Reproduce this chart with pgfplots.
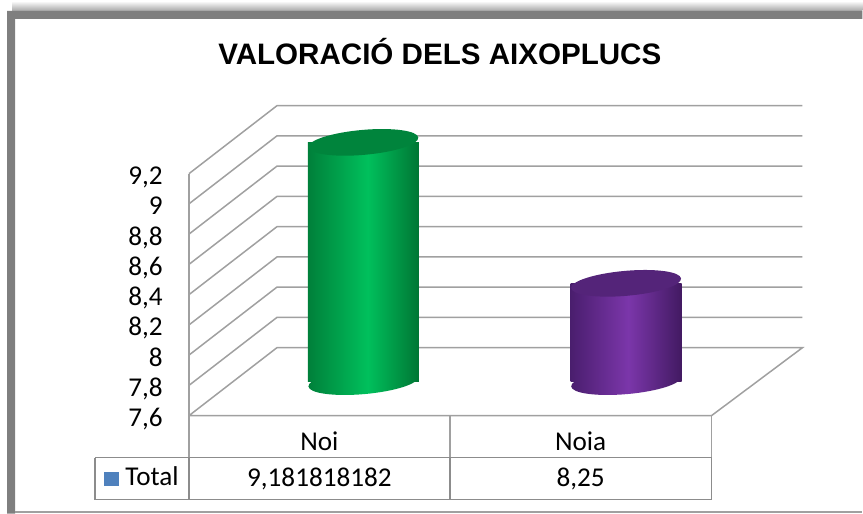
\documentclass[border=0pt]{standalone}
\usepackage{pgfplots}
\pgfplotsset{compat=1.18}
\usepackage{fontspec}
\setmainfont{Carlito}
\newfontfamily\titlefont{Liberation Sans}
\definecolor{gridc}{HTML}{A0A0A0}
\definecolor{tabc}{HTML}{8C8C8C}
\definecolor{framec}{HTML}{7F7F7F}
\definecolor{gA}{RGB}{0,128,58}
\definecolor{gB}{RGB}{0,192,92}
\definecolor{gC}{RGB}{0,118,52}
\definecolor{gT}{RGB}{0,132,60}
\definecolor{pA}{RGB}{74,30,110}
\definecolor{pB}{RGB}{123,54,170}
\definecolor{pC}{RGB}{66,26,98}
\definecolor{pT}{RGB}{84,36,121}
\definecolor{legblue}{HTML}{4F81BD}
\pgfdeclarehorizontalshading{greencyl}{100bp}{color(0bp)=(gA); color(25bp)=(gA); color(52bp)=(gB); color(75bp)=(gC); color(100bp)=(gC)}
\pgfdeclarehorizontalshading{purplecyl}{100bp}{color(0bp)=(pA); color(25bp)=(pA); color(51bp)=(pB); color(75bp)=(pC); color(100bp)=(pC)}
\pgfdeclareplotmark{gbot}{\pgfpathellipse{\pgfpointorigin}{\pgfpointpolar{5}{27.6pt}}{\pgfpointpolar{95}{6.25pt}}\pgfshadepath{greencyl}{0}\pgfusepath{discard}}
\pgfdeclareplotmark{pbot}{\pgfpathellipse{\pgfpointorigin}{\pgfpointpolar{5}{27.6pt}}{\pgfpointpolar{95}{6.25pt}}\pgfshadepath{purplecyl}{0}\pgfusepath{discard}}
\pgfdeclareplotmark{ctop}{\pgfpathellipse{\pgfpointorigin}{\pgfpointpolar{5}{27.6pt}}{\pgfpointpolar{95}{6.25pt}}\pgfusepathqfill}
\def\W{431.5pt}
\def\H{257pt}
\newcommand\lblfont{\fontsize{13.6}{16}\selectfont}
\begin{document}
\begin{tikzpicture}
% ---------- frame, walls, table (pixel coordinates) ----------
\begin{axis}[width=\W,height=\H,scale only axis,at={(0,0)},anchor=south west,
  xmin=0,xmax=863,ymin=0,ymax=514,y dir=reverse,axis lines=none,clip=false]
\addplot[draw=none,top color=white,bottom color=black!35] coordinates {(12,1) (863,1) (863,11) (12,11)};
\addplot[draw=none,fill=framec] coordinates {(7,11) (863,11) (863,19) (15,19) (15,514) (7,514)};
\addplot[gridc,line width=0.6pt] coordinates {(15,512.5) (863,512.5)};
% grid lines on side wall and back wall
\addplot[gridc,line width=0.75pt] coordinates {(189,385.7) (277,317.7) (803,317.7)};
\addplot[gridc,line width=0.75pt] coordinates {(189,355.4) (277,287.4) (803,287.4)};
\addplot[gridc,line width=0.75pt] coordinates {(189,325.2) (277,257.2) (803,257.2)};
\addplot[gridc,line width=0.75pt] coordinates {(189,294.9) (277,226.9) (803,226.9)};
\addplot[gridc,line width=0.75pt] coordinates {(189,264.6) (277,196.6) (803,196.6)};
\addplot[gridc,line width=0.75pt] coordinates {(189,234.3) (277,166.3) (803,166.3)};
\addplot[gridc,line width=0.75pt] coordinates {(189,204.0) (277,136.0) (803,136.0)};
\addplot[gridc,line width=0.75pt] coordinates {(189,173.8) (277,105.8) (803,105.8)};
% floor
\addplot[gridc,line width=0.75pt] coordinates {(189,416) (277,348) (803,348) (712,416) (189,416)};
% front vertical edge and header row
\addplot[gridc,line width=0.75pt] coordinates {(189,173.8) (189,458)};
\addplot[gridc,line width=0.75pt] coordinates {(450,416) (450,458)};
\addplot[gridc,line width=0.75pt] coordinates {(712,416) (712,458)};
% value row
\addplot[tabc,line width=0.9pt] coordinates {(95,458) (712,458) (712,500) (95,500) (95,458)};
\addplot[tabc,line width=0.9pt] coordinates {(189,458) (189,500)};
\addplot[tabc,line width=0.9pt] coordinates {(450,458) (450,500)};
\addplot[draw=none,fill=legblue] coordinates {(104,472) (119,472) (119,486) (104,486)};
\node[font=\titlefont\bfseries\fontsize{14.8}{17}\selectfont] at (axis cs:440,52) {VALORACIÓ DELS AIXOPLUCS};
\node[anchor=base,inner sep=0pt,font=\lblfont] at (axis cs:319.5,451) {Noi};
\node[anchor=base,inner sep=0pt,font=\lblfont] at (axis cs:581,451) {Noia};
\node[anchor=base,inner sep=0pt,font=\lblfont] at (axis cs:319.5,487) {9,181818182};
\node[anchor=base,inner sep=0pt,font=\lblfont] at (axis cs:581,487) {8,25};
\node[anchor=base west,inner sep=0pt,font=\lblfont] at (axis cs:125,486) {Total};
\end{axis}
% ---------- value axis (front plane) for tick labels ----------
\begin{axis}[width=\W,height=\H,scale only axis,at={(0,0)},anchor=south west,
  xmin=0,xmax=863,ymin=6.95271,ymax=10.34769,
  axis x line=none,axis y line=left,y axis line style={draw=none},
  ytick={7.6,7.8,8,8.2,8.4,8.6,8.8,9,9.2},major tick length=0pt,
  yticklabel style={anchor=base east,inner sep=0pt,xshift=81.5pt,yshift=-5.5pt,font=\lblfont},
  /pgf/number format/.cd,use comma,fixed,assume math mode=true]
\addplot[draw=none] coordinates {(400,8)};
\end{axis}
% ---------- cylinders (middle depth plane) ----------
\begin{axis}[width=\W,height=\H,scale only axis,at={(0,0)},anchor=south west,
  xmin=0,xmax=863,ymin=6.72814,ymax=10.12312,hide axis,clip=false]
% Noi
\addplot[only marks,mark=gbot] coordinates {(363.5,7.6)};
\addplot[draw=none,shading=greencyl] coordinates {(308,7.6) (308,9.181818182) (419,9.181818182) (419,7.6)};
\addplot[only marks,mark=ctop,mark options={fill=gT,draw=none}] coordinates {(363.5,9.181818182)};
% Noia
\addplot[only marks,mark=pbot] coordinates {(626.5,7.6)};
\addplot[draw=none,shading=purplecyl] coordinates {(571,7.6) (571,8.25) (682,8.25) (682,7.6)};
\addplot[only marks,mark=ctop,mark options={fill=pT,draw=none}] coordinates {(626.5,8.25)};
\end{axis}
\end{tikzpicture}
\end{document}
